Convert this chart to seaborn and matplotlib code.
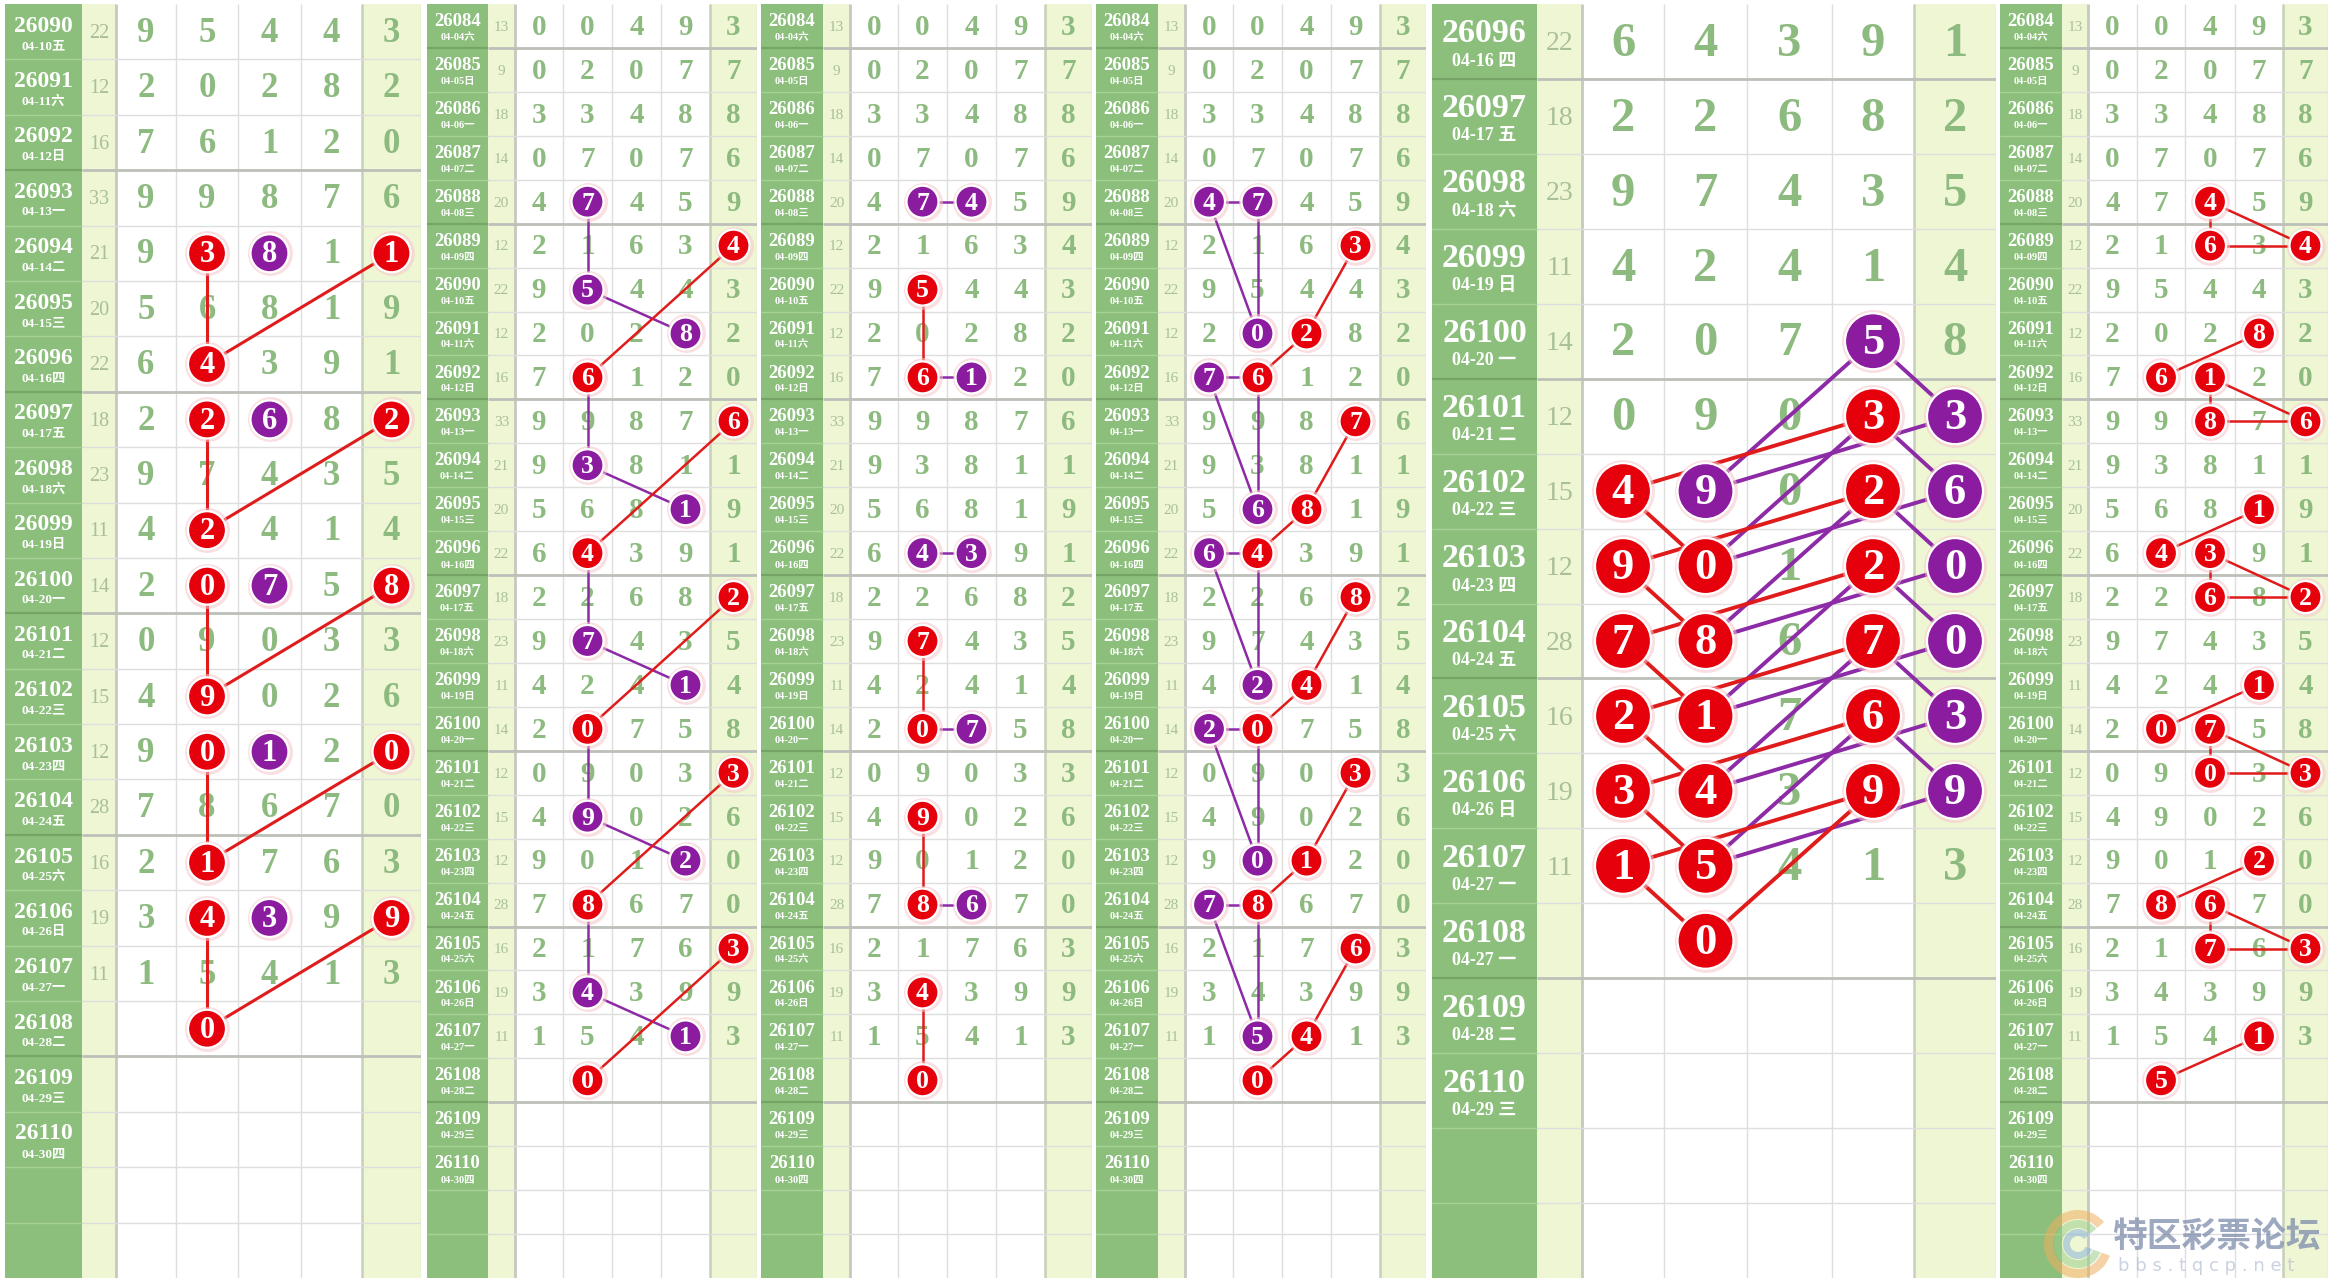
import numpy as np
import pandas as pd
import matplotlib
matplotlib.use("Agg")
import matplotlib.pyplot as plt
from matplotlib.patches import Wedge
import seaborn as sns

# ---------------------------------------------------------------- data
issue_no = list(range(26084, 26111))
month_day = ['04-04', '04-05', '04-06', '04-07', '04-08', '04-09', '04-10', '04-11', '04-12',
             '04-13', '04-14', '04-15', '04-16', '04-17', '04-18', '04-19', '04-20', '04-21',
             '04-22', '04-23', '04-24', '04-25', '04-26', '04-27', '04-28', '04-29', '04-30']
weekday = ['六', '日', '一', '二', '三', '四', '五', '六', '日', '一', '二', '三', '四', '五',
           '六', '日', '一', '二', '三', '四', '五', '六', '日', '一', '二', '三', '四']
# the large panel labels its last three issues differently
big_panel_tail_dates = {26108: '04-27 一', 26109: '04-28 二', 26110: '04-29 三'}

# drawn results 26084 .. 26107
pos1 = [0, 0, 3, 0, 4, 2, 9, 2, 7, 9, 9, 5, 6, 2, 9, 4, 2, 0, 4, 9, 7, 2, 3, 1]
pos2 = [0, 2, 3, 7, 7, 1, 5, 0, 6, 9, 3, 6, 4, 2, 7, 2, 0, 9, 9, 0, 8, 1, 4, 5]
pos3 = [4, 0, 4, 0, 4, 6, 4, 2, 1, 8, 8, 8, 3, 6, 4, 4, 7, 0, 0, 1, 6, 7, 3, 4]
pos4 = [9, 7, 8, 7, 5, 3, 4, 8, 2, 7, 1, 1, 9, 8, 3, 1, 5, 3, 2, 2, 7, 6, 9, 1]
pos5 = [3, 7, 8, 6, 9, 4, 3, 2, 0, 6, 1, 9, 1, 2, 5, 4, 8, 3, 6, 0, 0, 3, 9, 3]
sums = [13, 9, 18, 14, 20, 12, 22, 12, 16, 33, 21, 20, 22, 18, 23, 11, 14, 12, 15, 12, 28, 16, 19, 11]

# highlighted balls: (issue, position, digit shown, colour r/p)
balls_1 = [(26094, 2, 3, 'r'), (26094, 3, 8, 'p'), (26094, 5, 1, 'r'), (26096, 2, 4, 'r'),
           (26097, 2, 2, 'r'), (26097, 3, 6, 'p'), (26097, 5, 2, 'r'), (26099, 2, 2, 'r'),
           (26100, 2, 0, 'r'), (26100, 3, 7, 'p'), (26100, 5, 8, 'r'), (26102, 2, 9, 'r'),
           (26103, 2, 0, 'r'), (26103, 3, 1, 'p'), (26103, 5, 0, 'r'), (26105, 2, 1, 'r'),
           (26106, 2, 4, 'r'), (26106, 3, 3, 'p'), (26106, 5, 9, 'r'), (26108, 2, 0, 'r')]
links_1 = [(26094, 2, 26096, 2, 'r'), (26094, 5, 26096, 2, 'r'), (26097, 2, 26099, 2, 'r'),
           (26097, 5, 26099, 2, 'r'), (26100, 2, 26102, 2, 'r'), (26100, 5, 26102, 2, 'r'),
           (26103, 2, 26105, 2, 'r'), (26103, 5, 26105, 2, 'r'), (26106, 2, 26108, 2, 'r'),
           (26106, 5, 26108, 2, 'r')]

balls_2 = [(26088, 2, 7, 'p'), (26089, 5, 4, 'r'), (26090, 2, 5, 'p'), (26091, 4, 8, 'p'),
           (26092, 2, 6, 'r'), (26093, 5, 6, 'r'), (26094, 2, 3, 'p'), (26095, 4, 1, 'p'),
           (26096, 2, 4, 'r'), (26097, 5, 2, 'r'), (26098, 2, 7, 'p'), (26099, 4, 1, 'p'),
           (26100, 2, 0, 'r'), (26101, 5, 3, 'r'), (26102, 2, 9, 'p'), (26103, 4, 2, 'p'),
           (26104, 2, 8, 'r'), (26105, 5, 3, 'r'), (26106, 2, 4, 'p'), (26107, 4, 1, 'p'),
           (26108, 2, 0, 'r')]
links_2 = [(26088, 2, 26090, 2, 'p'), (26090, 2, 26091, 4, 'p'), (26092, 2, 26094, 2, 'p'),
           (26094, 2, 26095, 4, 'p'), (26096, 2, 26098, 2, 'p'), (26098, 2, 26099, 4, 'p'),
           (26100, 2, 26102, 2, 'p'), (26102, 2, 26103, 4, 'p'), (26104, 2, 26106, 2, 'p'),
           (26106, 2, 26107, 4, 'p'),
           (26089, 5, 26092, 2, 'r'), (26093, 5, 26096, 2, 'r'), (26097, 5, 26100, 2, 'r'),
           (26101, 5, 26104, 2, 'r'), (26105, 5, 26108, 2, 'r')]

balls_3 = [(26088, 2, 7, 'p'), (26088, 3, 4, 'p'), (26090, 2, 5, 'r'), (26092, 2, 6, 'r'),
           (26092, 3, 1, 'p'), (26096, 2, 4, 'p'), (26096, 3, 3, 'p'), (26098, 2, 7, 'r'),
           (26100, 2, 0, 'r'), (26100, 3, 7, 'p'), (26102, 2, 9, 'r'), (26104, 2, 8, 'r'),
           (26104, 3, 6, 'p'), (26106, 2, 4, 'r'), (26108, 2, 0, 'r')]
links_3 = [(26088, 2, 26088, 3, 'p'), (26090, 2, 26092, 2, 'r'), (26092, 2, 26092, 3, 'p'),
           (26096, 2, 26096, 3, 'p'), (26098, 2, 26100, 2, 'r'), (26100, 2, 26100, 3, 'p'),
           (26102, 2, 26104, 2, 'r'), (26104, 2, 26104, 3, 'p'), (26106, 2, 26108, 2, 'r')]

balls_4 = [(26088, 1, 4, 'p'), (26088, 2, 7, 'p'), (26089, 4, 3, 'r'), (26091, 2, 0, 'p'),
           (26091, 3, 2, 'r'), (26092, 1, 7, 'p'), (26092, 2, 6, 'r'), (26093, 4, 7, 'r'),
           (26095, 2, 6, 'p'), (26095, 3, 8, 'r'), (26096, 1, 6, 'p'), (26096, 2, 4, 'r'),
           (26097, 4, 8, 'r'), (26099, 2, 2, 'p'), (26099, 3, 4, 'r'), (26100, 1, 2, 'p'),
           (26100, 2, 0, 'r'), (26101, 4, 3, 'r'), (26103, 2, 0, 'p'), (26103, 3, 1, 'r'),
           (26104, 1, 7, 'p'), (26104, 2, 8, 'r'), (26105, 4, 6, 'r'), (26107, 2, 5, 'p'),
           (26107, 3, 4, 'r'), (26108, 2, 0, 'r')]
links_4 = [(26088, 1, 26088, 2, 'p'), (26088, 1, 26091, 2, 'p'), (26088, 2, 26091, 2, 'p'),
           (26092, 1, 26092, 2, 'p'), (26092, 1, 26095, 2, 'p'), (26092, 2, 26095, 2, 'p'),
           (26096, 1, 26096, 2, 'p'), (26096, 1, 26099, 2, 'p'), (26096, 2, 26099, 2, 'p'),
           (26100, 1, 26100, 2, 'p'), (26100, 1, 26103, 2, 'p'), (26100, 2, 26103, 2, 'p'),
           (26104, 1, 26104, 2, 'p'), (26104, 1, 26107, 2, 'p'), (26104, 2, 26107, 2, 'p'),
           (26089, 4, 26091, 3, 'r'), (26091, 3, 26092, 2, 'r'), (26093, 4, 26095, 3, 'r'),
           (26095, 3, 26096, 2, 'r'), (26097, 4, 26099, 3, 'r'), (26099, 3, 26100, 2, 'r'),
           (26101, 4, 26103, 3, 'r'), (26103, 3, 26104, 2, 'r'), (26105, 4, 26107, 3, 'r'),
           (26107, 3, 26108, 2, 'r')]

balls_5 = [(26100, 4, 5, 'p'), (26101, 4, 3, 'r'), (26101, 5, 3, 'p'), (26102, 1, 4, 'r'),
           (26102, 2, 9, 'p'), (26102, 4, 2, 'r'), (26102, 5, 6, 'p'), (26103, 1, 9, 'r'),
           (26103, 2, 0, 'r'), (26103, 4, 2, 'r'), (26103, 5, 0, 'p'), (26104, 1, 7, 'r'),
           (26104, 2, 8, 'r'), (26104, 4, 7, 'r'), (26104, 5, 0, 'p'), (26105, 1, 2, 'r'),
           (26105, 2, 1, 'r'), (26105, 4, 6, 'r'), (26105, 5, 3, 'p'), (26106, 1, 3, 'r'),
           (26106, 2, 4, 'r'), (26106, 4, 9, 'r'), (26106, 5, 9, 'p'), (26107, 1, 1, 'r'),
           (26107, 2, 5, 'r'), (26108, 2, 0, 'r')]
links_5 = [(26100, 4, 26101, 5, 'p'), (26100, 4, 26102, 2, 'p'), (26101, 5, 26102, 2, 'p'),
           (26101, 4, 26102, 5, 'p'), (26101, 4, 26103, 2, 'p'), (26102, 5, 26103, 2, 'p'),
           (26102, 4, 26103, 5, 'p'), (26102, 4, 26104, 2, 'p'), (26103, 5, 26104, 2, 'p'),
           (26103, 4, 26104, 5, 'p'), (26103, 4, 26105, 2, 'p'), (26104, 5, 26105, 2, 'p'),
           (26104, 4, 26105, 5, 'p'), (26104, 4, 26106, 2, 'p'), (26105, 5, 26106, 2, 'p'),
           (26105, 4, 26106, 5, 'p'), (26105, 4, 26107, 2, 'p'), (26106, 5, 26107, 2, 'p'),
           (26101, 4, 26102, 1, 'r'), (26102, 1, 26103, 2, 'r'), (26102, 4, 26103, 1, 'r'),
           (26103, 1, 26104, 2, 'r'), (26103, 4, 26104, 1, 'r'), (26104, 1, 26105, 2, 'r'),
           (26104, 4, 26105, 1, 'r'), (26105, 1, 26106, 2, 'r'), (26105, 4, 26106, 1, 'r'),
           (26106, 1, 26107, 2, 'r'), (26106, 4, 26107, 1, 'r'), (26107, 1, 26108, 2, 'r'),
           (26106, 4, 26108, 2, 'r')]

balls_6 = [(26088, 3, 4, 'r'), (26089, 3, 6, 'r'), (26089, 5, 4, 'r'), (26091, 4, 8, 'r'),
           (26092, 2, 6, 'r'), (26092, 3, 1, 'r'), (26093, 3, 8, 'r'), (26093, 5, 6, 'r'),
           (26095, 4, 1, 'r'), (26096, 2, 4, 'r'), (26096, 3, 3, 'r'), (26097, 3, 6, 'r'),
           (26097, 5, 2, 'r'), (26099, 4, 1, 'r'), (26100, 2, 0, 'r'), (26100, 3, 7, 'r'),
           (26101, 3, 0, 'r'), (26101, 5, 3, 'r'), (26103, 4, 2, 'r'), (26104, 2, 8, 'r'),
           (26104, 3, 6, 'r'), (26105, 3, 7, 'r'), (26105, 5, 3, 'r'), (26107, 4, 1, 'r'),
           (26108, 2, 5, 'r')]
links_6 = [(26088, 3, 26089, 3, 'r'), (26088, 3, 26089, 5, 'r'), (26089, 3, 26089, 5, 'r'),
           (26091, 4, 26092, 2, 'r'), (26092, 3, 26093, 3, 'r'), (26092, 3, 26093, 5, 'r'),
           (26093, 3, 26093, 5, 'r'), (26095, 4, 26096, 2, 'r'), (26096, 3, 26097, 3, 'r'),
           (26096, 3, 26097, 5, 'r'), (26097, 3, 26097, 5, 'r'), (26099, 4, 26100, 2, 'r'),
           (26100, 3, 26101, 3, 'r'), (26100, 3, 26101, 5, 'r'), (26101, 3, 26101, 5, 'r'),
           (26103, 4, 26104, 2, 'r'), (26104, 3, 26105, 3, 'r'), (26104, 3, 26105, 5, 'r'),
           (26105, 3, 26105, 5, 'r'), (26107, 4, 26108, 2, 'r')]

# ---------------------------------------------------------------- style
sns.set_theme(style="white")
SERIF = ['Liberation Serif', 'Noto Sans CJK SC', 'DejaVu Sans']
plt.rcParams['font.family'] = SERIF

ISSUE_BG = '#8cbf7c'
ISSUE_LINE = '#a6d296'
ISSUE_LINE_THICK = '#76a466'
PALE_BG = '#eff6d4'
DIGIT_C = '#8cba7f'
SUM_C = '#a9bf9a'
GRID_C = '#dedede'
THICK_C = '#bcc0b8'
BALL_PALETTE = {'r': '#e5000c', 'p': '#8b1c9f'}
LINK_COLORS = {'r': '#e01b1b', 'p': '#8d2aa6'}

W, H = 2334, 1280
TOP, BOTTOM = 4, 1278

STYLES = {
    'mid':   dict(issue=17, date=9.5, sum=14.5, digit=25, ball=38, ball_font=22, lw=2.2),
    'small': dict(issue=13.5, date=7.5, sum=11, digit=21, ball=32, ball_font=18.5, lw=1.8),
    'big':   dict(issue=24.5, date=13, sum=20, digit=35, ball=56, ball_font=32, lw=2.8),
}

panels = [
    dict(edges=[5, 82, 116, 176, 238, 301, 362, 421], first=26090, nrows=23, style='mid',
         balls=balls_1, links=links_1, sep=''),
    dict(edges=[427, 488, 515, 563, 612, 661, 710, 757], first=26084, nrows=29, style='small',
         balls=balls_2, links=links_2, sep=''),
    dict(edges=[761, 823, 850, 898, 947, 996, 1045, 1092], first=26084, nrows=29, style='small',
         balls=balls_3, links=links_3, sep=''),
    dict(edges=[1096, 1158, 1185, 1233, 1282, 1331, 1380, 1426], first=26084, nrows=29, style='small',
         balls=balls_4, links=links_4, sep=''),
    dict(edges=[1432, 1537, 1582, 1664, 1747, 1832, 1914, 1996], first=26096, nrows=17, style='big',
         balls=balls_5, links=links_5, sep=' '),
    dict(edges=[2000, 2062, 2088, 2137, 2185, 2235, 2283, 2328], first=26084, nrows=29, style='small',
         balls=balls_6, links=links_6, sep=''),
]

draws = pd.DataFrame({'issue': issue_no[:len(pos1)], 'sum': sums,
                      1: pos1, 2: pos2, 3: pos3, 4: pos4, 5: pos5}).set_index('issue')
labels = pd.DataFrame({'issue': issue_no, 'md': month_day, 'wd': weekday}).set_index('issue')

fig = plt.figure(figsize=(W / 100, H / 100), dpi=100)
fig.patch.set_facecolor('white')


def draw_panel(cfg):
    e = cfg['edges']
    n = cfg['nrows']
    st = STYLES[cfg['style']]
    first = cfg['first']
    x0, x1 = e[0], e[-1]
    ax = fig.add_axes([x0 / W, 1 - BOTTOM / H, (x1 - x0) / W, (BOTTOM - TOP) / H])
    ax.set_xlim(x0, x1)
    ax.set_ylim(n, 0)
    ax.axis('off')
    cx = [(e[i] + e[i + 1]) / 2 for i in range(7)]

    # column backgrounds
    ax.axvspan(e[0], e[1], color=ISSUE_BG, lw=0, zorder=0)
    ax.axvspan(e[1], e[2], color=PALE_BG, lw=0, zorder=0)
    ax.axvspan(e[6], e[7], color=PALE_BG, lw=0, zorder=0)

    # vertical grid
    for k in (3, 4, 5):
        ax.vlines(e[k], 0, n, color=GRID_C, lw=1.0, zorder=1)
    ax.vlines(e[2], 0, n, color='#c5c9bf', lw=2.0, zorder=1)
    ax.vlines(e[6], 0, n, color='#c6d0ba', lw=1.8, zorder=1)
    ax.vlines(e[7] - 0.5, 0, n, color='#dfe6d4', lw=1.0, zorder=1)

    # horizontal grid
    for r in range(1, n):
        issue = first + r
        thick = (issue - 26089) % 4 == 0
        ax.hlines(r, e[1], e[7], color=THICK_C if thick else GRID_C,
                  lw=2.0 if thick else 1.0, zorder=1)
        ax.hlines(r, e[0], e[1], color=ISSUE_LINE_THICK if thick else ISSUE_LINE,
                  lw=1.6 if thick else 1.0, zorder=1)

    # issue labels
    for r in range(n):
        issue = first + r
        if issue not in labels.index:
            continue
        if cfg['style'] == 'big' and issue in big_panel_tail_dates:
            dtxt = big_panel_tail_dates[issue]
        else:
            dtxt = labels.loc[issue, 'md'] + cfg['sep'] + labels.loc[issue, 'wd']
        ax.text(cx[0], r + 0.40, str(issue), ha='center', va='center', color='white',
                fontsize=st['issue'], fontweight='bold', zorder=2)
        ax.text(cx[0], r + 0.76, dtxt, ha='center', va='center', color='white',
                fontsize=st['date'], fontweight='bold', zorder=2)

    ball_keys = {(b[0], b[1]) for b in cfg['balls']}

    # sums and plain digits
    for r in range(n):
        issue = first + r
        if issue not in draws.index:
            continue
        ax.text(cx[1], r + 0.53, str(draws.loc[issue, 'sum']), ha='center', va='center',
                color=SUM_C, fontsize=st['sum'], zorder=2)
        for p in range(1, 6):
            if (issue, p) in ball_keys:
                continue
            ax.text(cx[p + 1], r + 0.53, str(draws.loc[issue, p]), ha='center', va='center',
                    color=DIGIT_C, fontsize=st['digit'], fontweight='bold', zorder=2)

    # links
    for ia, pa, ib, pb, c in cfg['links']:
        ax.plot([cx[pa + 1], cx[pb + 1]], [ia - first + 0.5, ib - first + 0.5],
                color=LINK_COLORS[c], lw=st['lw'], zorder=3, solid_capstyle='butt')

    # balls
    bdf = pd.DataFrame(cfg['balls'], columns=['issue', 'pos', 'digit', 'kind'])
    bdf['x'] = [cx[p + 1] for p in bdf['pos']]
    bdf['y'] = bdf['issue'] - first + 0.5
    d_pt = st['ball'] * 0.72
    ax.scatter(bdf['x'], bdf['y'], s=(d_pt + 5) ** 2, color='#f7c6cb', alpha=0.55,
               linewidths=0, zorder=4)
    sns.scatterplot(data=bdf, x='x', y='y', hue='kind', palette=BALL_PALETTE, s=d_pt ** 2,
                    edgecolor='white', linewidth=1.6, legend=False, ax=ax, zorder=5)
    for _, b in bdf.iterrows():
        ax.text(b['x'], b['y'] + 0.03, str(b['digit']), ha='center', va='center',
                color='white', fontsize=st['ball_font'], fontweight='bold', zorder=6)
    ax.set_xlim(x0, x1)
    ax.set_ylim(n, 0)
    ax.axis('off')


for cfg in panels:
    draw_panel(cfg)

# ---------------------------------------------------------------- watermark
wax = fig.add_axes([0, 0, 1, 1], zorder=10)
wax.set_xlim(0, W)
wax.set_ylim(H, 0)
wax.axis('off')
for r0, wdt, col, a in [(34, 9, '#f0b060', 0.55), (24, 8, '#9ccf8a', 0.55), (15, 7, '#7fb0d8', 0.5)]:
    wax.add_patch(Wedge((2078, 1244), r0, 20, 320, width=wdt, color=col, alpha=a, lw=0))
wax.text(2112, 1236, '特区彩票论坛', ha='left', va='center', fontsize=25, fontweight='bold',
         color='#7d8cab', alpha=0.75, family=['Noto Sans CJK SC', 'DejaVu Sans'])
wax.text(2118, 1266, 'b b s . t q c p . n e t', ha='left', va='center', fontsize=13,
         color='#b9c3d8', alpha=0.75, family=['DejaVu Sans'])

fig.savefig('out.png', dpi=100, facecolor='white')
